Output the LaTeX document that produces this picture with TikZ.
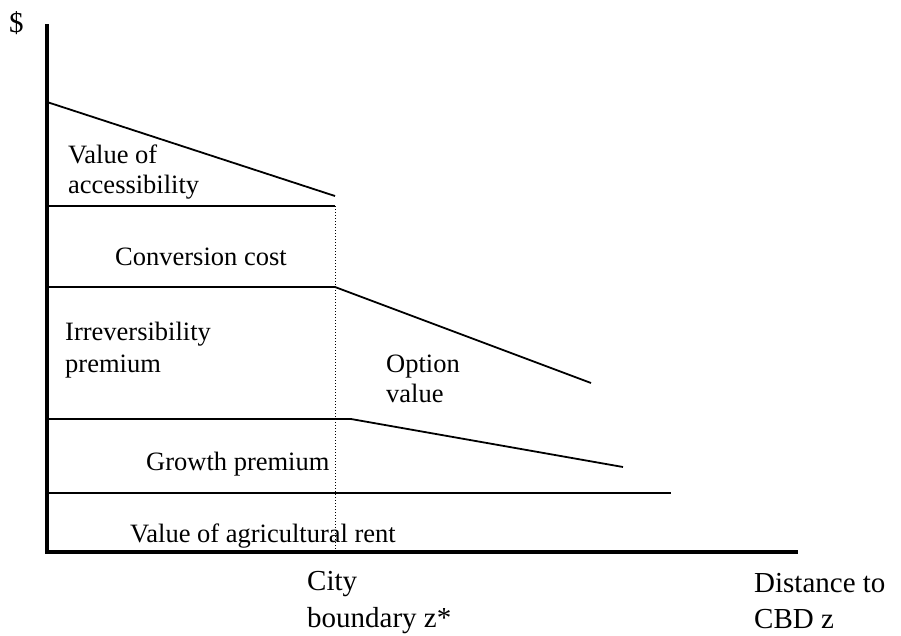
\documentclass[tikz,border=0pt]{standalone}
\usepackage{fontspec}
\setmainfont{Liberation Serif}
\begin{document}
\begin{tikzpicture}[x=1pt,y=-1pt,
  lbl/.style={inner sep=0pt,anchor=base west,font=\fontsize{26.5}{30}\selectfont},
  axlbl/.style={inner sep=0pt,anchor=base west,font=\fontsize{29}{36}\selectfont},
  curve/.style={line width=1.8pt},
  axisline/.style={line width=3.5pt},
  guide/.style={line width=1pt,dotted}]
\useasboundingbox (0,0) rectangle (901,635);
% axes
\coordinate (top) at (47,24);
\coordinate (orig) at (47,552);
\coordinate (xend) at (798,552);
\draw[axisline] (top) -- (orig) -- (xend);
% layers
\coordinate (a0) at (47,102);
\coordinate (a1) at (335,196);
\draw[curve] (a0) -- (a1);
\coordinate (b0) at (47,206);
\coordinate (b1) at (335,206);
\draw[curve] (b0) -- (b1);
\coordinate (c0) at (47,287);
\coordinate (c1) at (335,287);
\coordinate (c2) at (591,383);
\draw[curve] (c0) -- (c1) -- (c2);
\coordinate (d0) at (47,419);
\coordinate (d1) at (351,419);
\coordinate (d2) at (623,467);
\draw[curve] (d0) -- (d1) -- (d2);
\coordinate (e0) at (47,493);
\coordinate (e1) at (671,493);
\draw[curve] (e0) -- (e1);
% city boundary guide
\coordinate (z0) at (335,206);
\coordinate (z1) at (335,552);
\draw[guide] (z0) -- (z1);
% labels
\node[axlbl] (dollar) at (9,32) {\$};
\node[lbl] (acc1) at (68,163) {Value of};
\node[lbl] (acc2) at (68,193) {accessibility};
\node[lbl] (conv) at (115,265) {Conversion cost};
\node[lbl] (irr1) at (65,340) {Irreversibility};
\node[lbl] (irr2) at (65,372) {premium};
\node[lbl] (opt1) at (386,372) {Option};
\node[lbl] (opt2) at (386,402) {value};
\node[lbl] (grow) at (146,470) {Growth premium};
\node[lbl] (agri) at (130,542) {Value of agricultural rent};
\node[axlbl] (city1) at (307,590) {City};
\node[axlbl] (city2) at (307,627) {boundary z*};
\node[axlbl] (dist1) at (754,592) {Distance to};
\node[axlbl] (dist2) at (754,628) {CBD z};
\end{tikzpicture}
\end{document}
